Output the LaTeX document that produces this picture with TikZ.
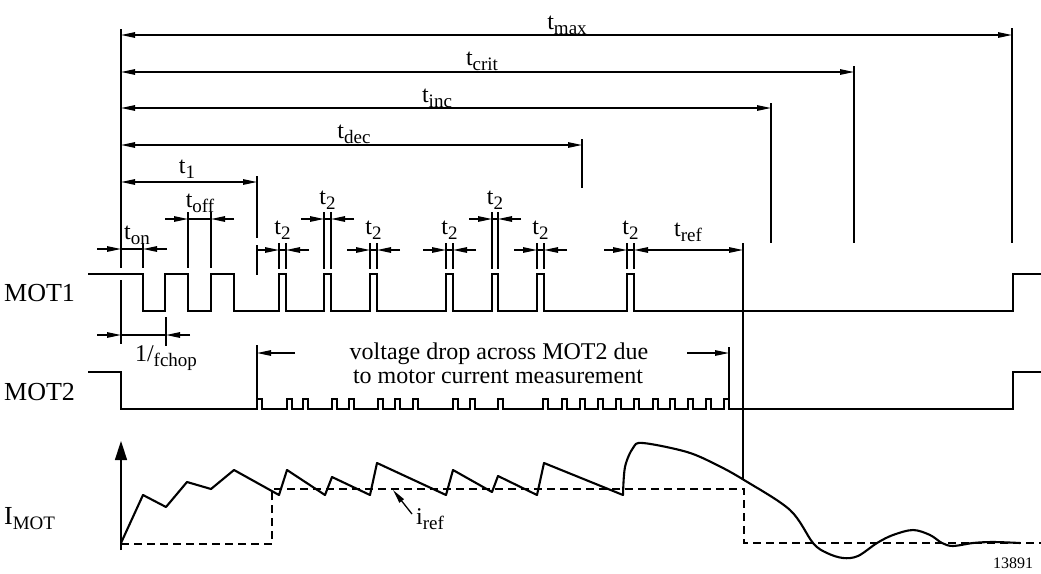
\documentclass[tikz,border=0pt]{standalone}
\usepackage{fontspec}
\setmainfont{Liberation Serif}
\usetikzlibrary{arrows.meta}
\newcommand\lbl[2]{#1\raisebox{-5pt}{\fontsize{19}{19}\selectfont #2}}
\begin{document}
\begin{tikzpicture}[x=1pt,y=-1pt, font=\fontsize{24}{26}\selectfont,
  dimline/.style={line width=1.3pt},
  arr/.style={line width=1.3pt, -{Triangle[length=14pt,width=5.5pt]}},
  darr/.style={line width=1.3pt, {Triangle[length=14pt,width=5.5pt]}-{Triangle[length=14pt,width=5.5pt]}},
  ext/.style={line width=1.8pt},
  thin/.style={line width=1.4pt},
  wave/.style={line width=2.3pt, line join=miter},
  curr/.style={line width=2.1pt, line join=round},
  refl/.style={line width=1.8pt, dash pattern=on 8pt off 5pt},
  lab/.style={inner sep=0pt, anchor=base},
  side/.style={inner sep=0pt, anchor=base west, font=\fontsize{26}{28}\selectfont}]
\useasboundingbox (0,0) rectangle (1041,573);

% reference verticals
\coordinate (L0) at (121,29);
\draw[ext] (L0) -- (121,268);
\draw[ext] (121,280) -- (121,344);

% top dimension lines
\draw[darr] (121,35) -- (1012,35);  \draw[ext] (1012,28) -- (1012,243);
\draw[darr] (121,72) -- (854,72);   \draw[ext] (854,66) -- (854,243);
\draw[darr] (121,108) -- (771,108); \draw[ext] (771,103) -- (771,243);
\draw[darr] (121,145) -- (582,145); \draw[ext] (582,139) -- (582,188);
\draw[darr] (121,182) -- (257,182); \draw[ext] (257,176) -- (257,238);
\draw[ext] (257,245) -- (257,275);
\node[lab] (tmax) at (567,29) {\lbl{t}{max}};
\node[lab] (tcrit) at (482,65) {\lbl{t}{crit}};
\node[lab] (tinc) at (437,102) {\lbl{t}{inc}};
\node[lab] (tdec) at (354,138) {\lbl{t}{dec}};
\node[lab] (tone) at (187,173) {\lbl{t}{1}};

% t_on
\draw[ext] (143,243) -- (143,268);
\draw[dimline] (121,249) -- (143,249);
\draw[arr] (97,249) -- (121,249);
\draw[arr] (167,249) -- (143,249);
\node[lab, anchor=base west] (ton) at (124,239) {\lbl{t}{on}};

% t_off
\draw[ext] (188,212) -- (188,268) (211,212) -- (211,268);
\draw[dimline] (188,219) -- (211,219);
\draw[arr] (165,219) -- (188,219);
\draw[arr] (234,219) -- (211,219);
\node[lab] (toff) at (200,207) {\lbl{t}{off}};

% 1/fchop
\draw[ext] (166,317) -- (166,346);
\draw[dimline] (121,335) -- (166,335);
\draw[arr] (97,335) -- (121,335);
\draw[arr] (190,335) -- (166,335);
\node[lab] (fchop) at (166,361) {\lbl{1/}{fchop}};

% t2 markers (short)
\foreach \a/\b in {279/286,370/377,446/453,537/544}{
  \draw[ext] (\a,243) -- (\a,269) (\b,243) -- (\b,269);
  \draw[dimline] (\a,250) -- (\b,250);
  \draw[arr] (\a-23,250) -- (\a,250);
  \draw[arr] (\b+23,250) -- (\b,250);
  \node[lab] (ts\a) at ({(\a+\b)/2},234) {\lbl{t}{2}};
}
% t2 markers (tall)
\foreach \a/\b in {324/331,492/498}{
  \draw[ext] (\a,212) -- (\a,269) (\b,212) -- (\b,269);
  \draw[dimline] (\a,219) -- (\b,219);
  \draw[arr] (\a-23,219) -- (\a,219);
  \draw[arr] (\b+23,219) -- (\b,219);
  \node[lab] (tt\a) at ({(\a+\b)/2},204) {\lbl{t}{2}};
}
% last t2 and t_ref
\draw[ext] (627,243) -- (627,269) (634,243) -- (634,269);
\draw[dimline] (627,250) -- (634,250);
\draw[arr] (604,250) -- (627,250);
\draw[darr] (634,250) -- (743,250);
\node[lab] (t2last) at (630.5,234) {\lbl{t}{2}};
\node[lab] (tref) at (688,236) {\lbl{t}{ref}};
\draw[thin] (743,243) -- (743,480);

% MOT1
\draw[wave] (88,274) -- (143,274) -- (143,311) -- (165,311) -- (165,274) -- (188,274)
  -- (188,311) -- (211,311) -- (211,274) -- (234,274) -- (234,311)
  foreach \a/\b in {279/286,324/331,370/377,446/453,492/498,537/544,627/634}
  { -- (\a,311) -- (\a,274) -- (\b,274) -- (\b,311) }
  -- (1013,311) -- (1013,274) -- (1041,274);
\node[side] (mot1) at (4,301) {MOT1};

% MOT2
\draw[wave] (88,372) -- (121,372) -- (121,409)
  foreach \p in {257,287,303,332,349,378,395,413,453,470,498,543,562,580,598,616,634,653,670,688,706,724}
  { -- (\p,409) -- (\p,399) -- (\p+5,399) -- (\p+5,409) }
  -- (1013,409) -- (1013,372) -- (1041,372);
\node[side] (mot2) at (4,400) {MOT2};

% voltage drop annotation
\draw[ext] (257,345) -- (257,399);
\draw[ext] (729,347) -- (729,399);
\draw[arr] (295,353) -- (257,353);
\draw[arr] (687,353) -- (729,353);
\node[lab] (vd1) at (499,359) {voltage drop across MOT2 due};
\node[lab] (vd2) at (498,383) {to motor current measurement};

% current plot
\draw[line width=1.5pt, -{Triangle[length=19pt,width=12pt]}] (121,550) -- (121,441);
\draw[refl] (121,544) -- (272,544) -- (272,489) -- (744,489) -- (744,543) -- (1041,543);
\draw[curr] (121,543) -- (143,495) -- (166,507) -- (187,482) -- (211,489) -- (234,470)
  -- (279,495) -- (287,470) -- (325,495) -- (332,477) -- (370,495) -- (377,463)
  -- (446,495) -- (453,470) -- (492,492) -- (498,476) -- (537,495) -- (544,463) -- (623,495)
  -- plot[smooth, tension=0.55] coordinates {(623,495) (625,467) (633,448) (643,443) (687,452)
  (717,465) (744,480) (790,510) (813,543) (827,553) (843,558) (858,556) (877,543) (893,535)
  (913,530) (930,535) (942,543) (953,546) (973,543) (993,542) (1020,543)};
\node[side] (imot) at (4,524) {\lbl{I}{MOT}};
\node[inner sep=0pt, anchor=west] (iref) at (416,519) {\lbl{i}{ref}};
\draw[arr] (412,514) -- (393,490);
\node[inner sep=0pt, font=\fontsize{16}{16}\selectfont] (num) at (1013,563) {13891};
\end{tikzpicture}
\end{document}
